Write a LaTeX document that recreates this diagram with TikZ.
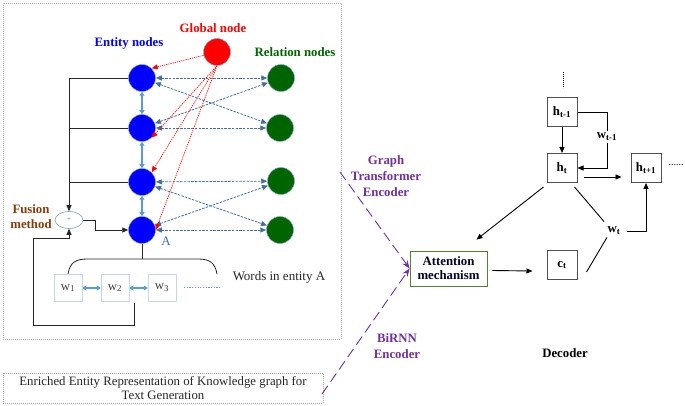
\documentclass[tikz,border=0pt]{standalone}
\usepackage{fontspec}
\setmainfont{Liberation Serif}
\usetikzlibrary{arrows.meta,shapes.geometric,calc}
\definecolor{ent}{HTML}{0000FF}
\definecolor{rel}{HTML}{006400}
\definecolor{glob}{HTML}{FF0000}
\definecolor{steel}{HTML}{41719C}
\definecolor{lblue}{HTML}{5B9BD5}
\definecolor{brownc}{HTML}{843C0C}
\definecolor{purp}{HTML}{7030A0}
\definecolor{attg}{HTML}{548235}
\definecolor{wbox}{HTML}{C9D6EA}
\definecolor{dbox}{HTML}{505050}
\begin{document}
\begin{tikzpicture}[x=1pt,y=-1pt,
  circ/.style={circle, minimum size=27pt, inner sep=0pt, draw=steel!60, line width=0.5pt},
  lbl/.style={font=\fontsize{12.8}{14}\selectfont\bfseries},
  sdash/.style={draw=steel, line width=0.8pt, dash pattern=on 2.5pt off 1.2pt, {Triangle[length=6pt,width=5pt]}-{Triangle[length=6pt,width=5pt]}},
  rdot/.style={draw=glob, line width=0.7pt, dash pattern=on 1.2pt off 1pt, -{Triangle[length=6pt,width=5pt]}},
  ebi/.style={draw=lblue, line width=1.2pt, {Triangle[length=4pt,width=5pt]}-{Triangle[length=4pt,width=5pt]}},
  blk/.style={draw=black!85, line width=0.8pt},
  barr/.style={blk, -{Triangle[length=6pt,width=5pt]}},
  wnode/.style={draw=wbox, line width=0.5pt, minimum width=28pt, minimum height=27pt, inner sep=0pt, text=black!75, font=\fontsize{12.8}{13}\selectfont},
  dnode/.style={draw=dbox, line width=1pt, minimum width=30pt, minimum height=29pt, inner sep=0pt, font=\fontsize{12.8}{13}\selectfont\bfseries},
  darr/.style={draw=black, line width=0.9pt, -{Triangle[length=6pt,width=5pt]}},
  dline/.style={draw=black, line width=0.9pt},
  pdash/.style={draw=purp, line width=0.9pt, dash pattern=on 10pt off 5pt, -{Stealth[length=8pt,width=6pt]}}
]
\useasboundingbox (0,0) rectangle (685,406);
% outer dotted frame
\draw[gray!60, line width=0.6pt, dash pattern=on 1pt off 1pt] (3,3) rectangle (341,339);

% labels
\node[lbl, text=ent] (lent) at (129,43) {Entity nodes};
\node[lbl, text=glob] (lglob) at (213,28) {Global node};
\node[lbl, text=rel] (lrel) at (295,52) {Relation nodes};

% nodes
\node[circ, fill=ent] (e1) at (142,78) {};
\node[circ, fill=ent] (e2) at (142,128) {};
\node[circ, fill=ent] (e3) at (142,182) {};
\node[circ, fill=ent] (e4) at (142,230) {};
\node[circ, fill=rel] (r1) at (281,78) {};
\node[circ, fill=rel] (r2) at (280,128) {};
\node[circ, fill=rel] (r3) at (281,181) {};
\node[circ, fill=rel] (r4) at (280,230) {};
\node[circ, fill=glob] (g) at (217,52) {};

% entity-entity
\draw[ebi] (e1) -- (e2);
\draw[ebi] (e2) -- (e3);
\draw[ebi] (e3) -- (e4);

% entity-relation
\draw[sdash] (e1) -- (r1);
\draw[sdash] (e1) -- (r2);
\draw[sdash] (e2) -- (r1);
\draw[sdash] (e2) -- (r2);
\draw[sdash] (e3) -- (r3);
\draw[sdash] (e3) -- (r4);
\draw[sdash] (e4) -- (r3);
\draw[sdash] (e4) -- (r4);

% global
\draw[rdot] (g) -- (e1.north east);
\draw[rdot] (g.south) -- (e2.south east);
\draw[rdot] (g.south) -- (e3.north east);
\draw[rdot] (g.south) -- (e4.east);

% fusion
\node[ellipse, draw=steel!70, line width=0.6pt, minimum width=28pt, minimum height=17pt, inner sep=0pt, font=\fontsize{7}{7}\selectfont, text=black!60] (fus) at (69,220) {+};
\node[lbl, text=brownc, align=center, font=\fontsize{12.8}{15}\selectfont\bfseries] (lfus) at (31,217) {Fusion\\method};
\draw[barr] (e1.west) -| (fus.north);
\draw[blk] (e2.west) -- (e2.west -| fus.north);
\draw[blk] (e3.west) -- (e3.west -| fus.north);
\coordinate (k1) at (95,220);
\draw[barr] (fus.east) -- (k1) |- (e4.west);
\node[text=steel, font=\fontsize{13}{13}\selectfont] (la) at (166,241) {A};

% words
\coordinate (bt) at (142,259);
\draw[blk] (e4.south) -- (bt);
\draw[blk] (68,274) .. controls (70,262) and (76,259) .. (88,259) -- (198,259) .. controls (210,259) and (215,263) .. (217,274);
\node[wnode] (w1) at (68,288) {w\textsubscript{1}};
\node[wnode] (w2) at (115,288) {w\textsubscript{2}};
\node[wnode] (w3) at (162,288) {w\textsubscript{3}};
\draw[ebi] (w1) -- (w2);
\draw[ebi] (w2) -- (w3);
\coordinate (dt1) at (184,287);
\coordinate (dt2) at (220,287);
\draw[lblue, line width=1pt, dash pattern=on 1.2pt off 1.5pt] (dt1) -- (dt2);
\node[font=\fontsize{13}{14}\selectfont, text=black!85] (lwords) at (279,277) {Words in entity A};

% loop back
\coordinate (d1) at (134,303);
\coordinate (d2) at (134,325);
\coordinate (d3) at (33,325);
\coordinate (d4) at (33,238);
\draw[barr] (d1) -- (d2) -- (d3) -- (d4) -| (fus.south);

% bottom text box
\node[draw=gray!70, line width=0.6pt, dash pattern=on 1pt off 1pt, minimum width=320pt, minimum height=30pt, align=center, font=\fontsize{12.8}{14}\selectfont, text=black!85] (txt) at (163,388) {Enriched Entity Representation of Knowledge graph for\\Text Generation};

% decoder
\coordinate (v1) at (563,72);
\coordinate (v2) at (563,88);
\draw[black, line width=0.8pt, dash pattern=on 0.8pt off 1.2pt] (v1) -- (v2);
\node[dnode] (hm1) at (562,112) {h\textsubscript{t-1}};
\node[dnode] (ht) at (562,168) {h\textsubscript{t}};
\node[dnode] (hp1) at (646,168) {h\textsubscript{t+1}};
\node[dnode] (ct) at (562,265) {c\textsubscript{t}};
\node[font=\fontsize{10}{10}\selectfont] (dots) at (676,165) {......};
\node[font=\fontsize{12.8}{13}\selectfont\bfseries] (wm1) at (607,137) {w\textsubscript{t-1}};
\node[font=\fontsize{12.8}{13}\selectfont\bfseries] (wt) at (614,231) {w\textsubscript{t}};
\draw[darr] (hm1) -- (ht);
\draw[dline] (hm1.east) -| ($(wm1.north)+(0,1)$);
\draw[darr] ($(wm1.south)+(0,-1)$) |- (ht.east);
\draw[darr] ($(ht.east)+(6,9)$) -- ($(hp1.west)+(-9,9)$);
\node[draw=attg, line width=0.8pt, minimum width=77pt, minimum height=35pt, align=center, font=\fontsize{12.8}{14}\selectfont\bfseries, text=black!85!blue] (att) at (448.5,268.5) {Attention\\mechanism};
\draw[darr] ($(ht.south west)+(-3,4)$) -- ($(att.north)+(28,-11)$);
\draw[dline] ($(ht.south east)+(-3,4)$) -- ($(wt.north)+(-10,-2)$);
\draw[darr] ($(wt.east)+(3,0)$) -| (hp1.south);
\draw[dline] ($(ct.east)+(9,7)$) -- ($(wt.south)+(-7,-1)$);
\draw[darr] ($(att.east)+(5,2)$) -- ($(ct.west)+(-14,6)$);
\node[lbl] (ldec) at (565,353) {Decoder};
\node[lbl, text=purp, align=center, font=\fontsize{12.8}{16}\selectfont\bfseries] (lbir) at (397,346) {BiRNN\\Encoder};
\node[lbl, text=purp, align=center, font=\fontsize{12.8}{16}\selectfont\bfseries] (lgte) at (386,176) {Graph\\Transformer\\Encoder};
\coordinate (p1) at (340,172);
\coordinate (p2) at (322,394);
\draw[pdash] (p1) -- (att.west);
\draw[pdash] (p2) -- (att.west);
\end{tikzpicture}
\end{document}
